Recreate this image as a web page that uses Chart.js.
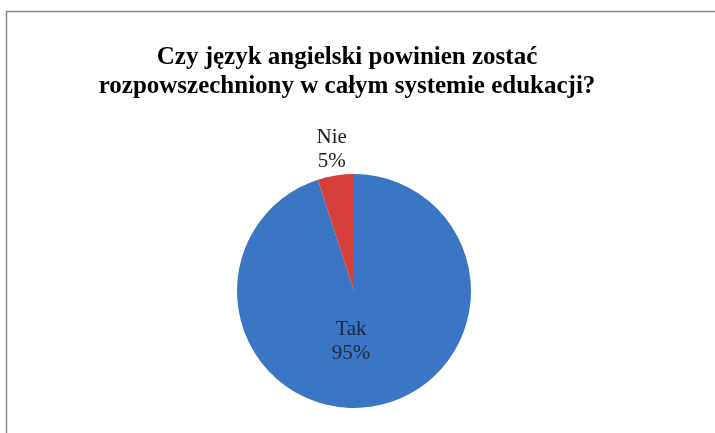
<!DOCTYPE html>
<html>
<head>
<meta charset="utf-8">
<script src="https://cdn.jsdelivr.net/npm/chart.js@4/dist/chart.umd.min.js"></script>
<style>
  html, body { margin: 0; padding: 0; background: #ffffff; }
  #wrap { width: 715px; height: 433px; position: relative; }
</style>
</head>
<body>
<div id="wrap"><canvas id="chart" width="715" height="433"></canvas></div>
<script>
// Survey answers and their shares (%)
const categories = ['Tak', 'Nie'];
const shares = [95, 5];
const sliceColors = ['#3B76C4', '#D63F3A'];
const titleLines = ['Czy język angielski powinien zostać', 'rozpowszechniony w całym systemie edukacji?'];

const serif = '"Liberation Serif", "Times New Roman", serif';

// Thin grey frame plus the two-line heading
const framePlugin = {
  id: 'frameAndHeading',
  beforeDraw(chart) {
    const ctx = chart.ctx;
    ctx.save();
    ctx.strokeStyle = '#8a8a8a';
    ctx.lineWidth = 1.5;
    ctx.beginPath();
    ctx.moveTo(6.5, chart.height + 2);
    ctx.lineTo(6.5, 11.5);
    ctx.lineTo(chart.width + 2, 11.5);
    ctx.stroke();

    ctx.fillStyle = '#000000';
    ctx.font = 'bold 25px ' + serif;
    ctx.textAlign = 'center';
    ctx.textBaseline = 'middle';
    titleLines.forEach((line, i) => {
      ctx.fillText(line, 347, 58 + i * 29);
    });
    ctx.restore();
  }
};

// Category name and percentage for each slice: inside for the big one, outside for the small one
const sliceLabelPlugin = {
  id: 'sliceLabels',
  afterDatasetsDraw(chart) {
    const ctx = chart.ctx;
    const meta = chart.getDatasetMeta(0);
    ctx.save();
    ctx.font = '21px ' + serif;
    ctx.textAlign = 'center';
    ctx.textBaseline = 'middle';
    meta.data.forEach((arc, i) => {
      const p = arc.getProps(['x', 'y', 'startAngle', 'endAngle', 'outerRadius'], true);
      const mid = (p.startAngle + p.endAngle) / 2;
      const value = shares[i];
      let cx, cy;
      if (value < 20) {
        const dist = p.outerRadius + 26;
        cx = p.x + Math.cos(mid) * dist;
        cy = p.y + Math.sin(mid) * dist;
        ctx.fillStyle = '#1a1a1a';
      } else {
        cx = p.x - 3;
        cy = p.y + p.outerRadius * 0.43;
        ctx.fillStyle = '#1b2a44';
      }
      ctx.fillText(categories[i], cx, cy - 12);
      ctx.fillText(value + '%', cx, cy + 12);
    });
    ctx.restore();
  }
};

new Chart(document.getElementById('chart'), {
  type: 'pie',
  data: {
    labels: categories,
    datasets: [{
      data: shares,
      backgroundColor: sliceColors,
      borderWidth: 0
    }]
  },
  options: {
    responsive: false,
    animation: false,
    layout: { padding: { top: 174, bottom: 25, left: 0, right: 7 } },
    plugins: {
      legend: { display: false },
      tooltip: { enabled: false },
      title: { display: false }
    }
  },
  plugins: [framePlugin, sliceLabelPlugin]
});
</script>
</body>
</html>
